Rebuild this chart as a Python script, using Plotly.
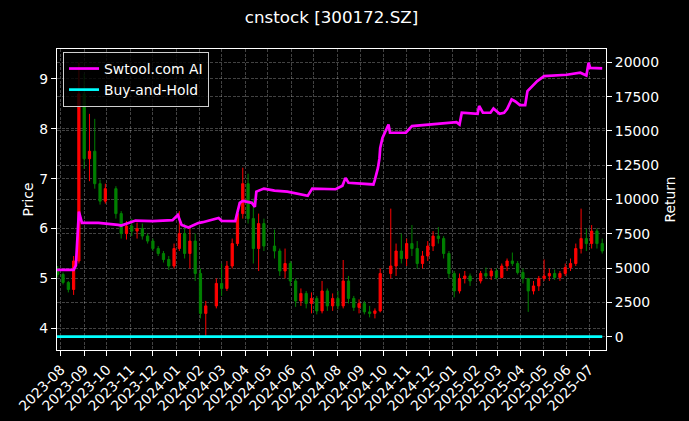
import plotly.graph_objects as go

# ---------------- data ----------------
c_dates = ["2023-07-28","2023-08-04","2023-08-11","2023-08-18","2023-08-25","2023-09-01","2023-09-08","2023-09-15","2023-09-22","2023-09-29",
           "2023-10-13","2023-10-20","2023-10-27","2023-11-03","2023-11-10","2023-11-17","2023-11-24","2023-12-01","2023-12-08","2023-12-15",
           "2023-12-22","2023-12-29","2024-01-05","2024-01-12","2024-01-19","2024-01-26","2024-02-02","2024-02-09","2024-02-23","2024-03-01",
           "2024-03-08","2024-03-15","2024-03-22","2024-03-29","2024-04-05","2024-04-12","2024-04-19","2024-04-26","2024-05-10","2024-05-17",
           "2024-05-24","2024-05-31","2024-06-07","2024-06-14","2024-06-21","2024-06-28","2024-07-05","2024-07-12","2024-07-19","2024-07-26",
           "2024-08-02","2024-08-09","2024-08-16","2024-08-23","2024-08-30","2024-09-06","2024-09-13","2024-09-20","2024-09-27","2024-10-11",
           "2024-10-18","2024-10-25","2024-11-01","2024-11-08","2024-11-15","2024-11-22","2024-11-29","2024-12-06","2024-12-13","2024-12-20",
           "2024-12-27","2025-01-03","2025-01-10","2025-01-17","2025-01-24","2025-02-07","2025-02-14","2025-02-21","2025-02-28","2025-03-07",
           "2025-03-14","2025-03-21","2025-03-28","2025-04-04","2025-04-11","2025-04-18","2025-04-25","2025-05-02","2025-05-09","2025-05-16",
           "2025-05-23","2025-05-30","2025-06-06","2025-06-13","2025-06-20","2025-06-27","2025-07-04","2025-07-11","2025-07-18"]
c_open = [5.20,5.08,4.92,4.78,5.35,8.70,7.40,7.55,6.90,6.55,
          6.80,6.30,5.90,6.05,5.95,6.00,5.85,5.75,5.60,5.50,
          5.38,5.25,5.60,5.90,5.50,5.75,5.10,4.30,4.45,4.90,
          4.80,5.25,5.70,6.30,6.90,6.20,5.60,6.10,5.65,5.55,
          5.15,5.30,4.95,4.55,4.70,4.50,4.60,4.35,4.75,4.45,
          4.60,4.45,4.95,4.60,4.42,4.50,4.33,4.30,4.35,5.10,
          5.25,5.55,5.40,5.70,5.60,5.30,5.45,5.65,5.85,5.80,
          5.50,5.10,4.75,5.00,5.05,4.95,5.10,5.05,5.15,5.02,
          5.25,5.35,5.30,5.12,5.00,4.75,4.85,5.00,5.05,5.10,
          5.02,5.10,5.22,5.30,5.60,5.80,5.70,5.95,5.70]
c_high = [5.25,5.12,4.95,5.45,9.33,9.10,8.30,8.20,6.98,6.90,
          6.85,6.35,6.15,6.20,6.12,6.10,5.90,5.80,5.65,5.55,
          5.45,5.70,6.35,6.10,6.00,5.90,5.20,4.55,5.00,5.30,
          5.35,5.80,6.40,7.22,7.10,6.60,6.30,6.20,5.98,5.60,
          5.60,5.35,5.00,4.80,4.75,4.72,4.65,4.95,4.80,4.70,
          4.75,5.37,5.05,4.65,4.58,4.55,4.45,4.40,5.20,6.40,
          5.70,5.90,5.80,6.07,5.75,5.55,5.75,5.95,6.03,5.85,
          5.55,5.15,5.10,5.15,5.10,5.15,5.22,5.20,5.20,5.30,
          5.40,5.52,5.35,5.20,5.00,4.95,5.05,5.38,5.20,5.18,
          5.15,5.30,5.40,5.70,6.40,6.00,6.07,6.00,5.80]
c_low = [5.02,4.88,4.72,4.67,5.30,7.20,6.95,6.80,6.48,6.50,
         6.20,5.80,5.78,5.85,5.80,5.78,5.70,5.55,5.45,5.32,
         5.17,5.20,5.55,5.40,5.20,4.95,4.20,3.84,4.40,4.65,
         4.75,5.20,5.65,6.20,6.10,5.30,5.15,5.55,5.40,5.05,
         5.00,4.85,4.43,4.45,4.40,4.30,4.28,4.30,4.35,4.35,
         4.38,4.40,4.50,4.35,4.30,4.28,4.22,4.20,4.32,5.00,
         5.05,5.30,5.25,5.45,5.20,5.20,5.35,5.55,5.70,5.40,
         5.00,4.62,4.70,4.90,4.85,4.90,5.00,4.97,4.98,5.00,
         5.15,5.25,5.08,4.90,4.33,4.68,4.75,4.95,4.95,4.97,
         4.95,5.05,5.15,5.25,5.50,5.55,5.60,5.60,5.50]
c_close = [5.08,4.92,4.78,5.35,8.70,7.40,7.55,6.90,6.55,6.80,
           6.30,5.90,6.05,5.95,6.00,5.85,5.75,5.60,5.50,5.38,
           5.25,5.60,5.90,5.50,5.75,5.10,4.30,4.45,4.90,4.80,
           5.25,5.70,6.30,6.90,6.20,5.60,6.10,5.65,5.55,5.15,
           5.30,4.95,4.55,4.70,4.50,4.60,4.35,4.75,4.45,4.60,
           4.45,4.95,4.60,4.42,4.50,4.33,4.30,4.35,5.10,5.25,
           5.55,5.40,5.70,5.60,5.30,5.45,5.65,5.85,5.80,5.50,
           5.10,4.75,5.00,5.05,4.95,5.10,5.05,5.15,5.02,5.25,
           5.35,5.30,5.12,5.00,4.75,4.85,5.00,5.05,5.10,5.02,
           5.10,5.22,5.30,5.60,5.80,5.70,5.95,5.70,5.55]

ai_dates = ["2023-07-27","2023-08-18","2023-08-21","2023-08-23","2023-08-25","2023-08-29","2023-09-20","2023-10-16","2023-10-20","2023-11-08",
            "2023-12-01","2023-12-27","2024-01-03","2024-01-08","2024-01-17","2024-01-30","2024-02-05","2024-02-26","2024-03-01","2024-03-19",
            "2024-03-25","2024-03-29","2024-04-10","2024-04-14","2024-04-16","2024-04-26","2024-05-10","2024-05-27","2024-06-12","2024-06-23",
            "2024-06-29","2024-07-30","2024-08-08","2024-08-12","2024-08-16","2024-09-18","2024-09-20","2024-09-24","2024-09-26","2024-09-27",
            "2024-09-30","2024-10-08","2024-10-10","2024-10-31","2024-11-08","2024-12-15","2025-01-06","2025-01-10","2025-01-13","2025-02-03",
            "2025-02-05","2025-02-10","2025-02-20","2025-02-24","2025-03-04","2025-03-10","2025-03-14","2025-03-20","2025-03-25","2025-03-31",
            "2025-04-07","2025-04-10","2025-04-16","2025-04-23","2025-05-02","2025-06-01","2025-06-19","2025-06-24","2025-06-27","2025-06-30",
            "2025-07-02","2025-07-18"]
ai_values = [4870,4870,5200,7600,9120,8300,8300,8150,8100,8470,
             8420,8500,8880,8150,7960,8280,8350,8660,8450,8420,
             9760,9900,9760,9470,10580,10800,10650,10580,10400,10270,
             10800,10750,11000,11580,11220,11100,11460,12310,13000,13770,
             14500,15470,14870,14870,15360,15560,15640,15470,16330,16250,
             16820,16330,16330,16640,16250,16330,16600,17300,17150,16890,
             16890,17910,18280,18640,19000,19100,19250,19150,19050,19980,
             19600,19560]

bh_dates = ["2023-07-27","2024-07-01","2025-07-18"]
bh_values = [0, 0, 0]

month_labels = ["2023-08","2023-09","2023-10","2023-11","2023-12","2024-01","2024-02","2024-03","2024-04","2024-05",
                "2024-06","2024-07","2024-08","2024-09","2024-10","2024-11","2024-12","2025-01","2025-02","2025-03",
                "2025-04","2025-05","2025-06","2025-07"]
price_ticks = [4, 5, 6, 7, 8, 9]
return_ticks = [0, 2500, 5000, 7500, 10000, 12500, 15000, 17500, 20000]

# ---------------- figure ----------------
month_vals = [m + "-01" for m in month_labels]

fig = go.Figure()
fig.add_trace(go.Candlestick(
    x=c_dates, open=c_open, high=c_high, low=c_low, close=c_close,
    increasing=dict(line=dict(color="#ff0000", width=1), fillcolor="#ff0000"),
    decreasing=dict(line=dict(color="#008000", width=1), fillcolor="#008000"),
    whiskerwidth=0, showlegend=False, yaxis="y", hoverinfo="skip"))
fig.add_trace(go.Scatter(x=ai_dates, y=ai_values, mode="lines", name="Swtool.com AI",
                         line=dict(color="#ff00ff", width=2.7), yaxis="y2"))
fig.add_trace(go.Scatter(x=bh_dates, y=bh_values, mode="lines", name="Buy-and-Hold",
                         line=dict(color="#00ffff", width=2.7), yaxis="y2"))

grid = dict(showgrid=True, gridcolor="rgba(255,255,255,0.26)", gridwidth=0.7, griddash="3px,1.5px")
axis_common = dict(ticks="outside", ticklen=5, tickwidth=1.1, tickcolor="white",
                   showline=True, linecolor="white", linewidth=1.1, zeroline=False,
                   tickfont=dict(size=13.9, color="white"), **grid)

fig.update_layout(
    width=689, height=421,
    paper_bgcolor="black", plot_bgcolor="black",
    margin=dict(l=57, r=83, t=49, b=71, autoexpand=False),
    font=dict(family="DejaVu Sans", color="white", size=13.9),
    title=dict(text="cnstock [300172.SZ]", x=0.5, xref="paper", xanchor="center",
               y=1 - 17 / 421, yref="container", yanchor="middle",
               font=dict(size=16.7, color="white", family="DejaVu Sans")),
    xaxis=dict(type="date", range=["2023-07-27", "2025-07-23"], tickvals=month_vals, ticktext=month_labels,
               tickangle=-45, mirror=True, rangeslider=dict(visible=False), **axis_common),
    yaxis=dict(range=[3.566, 9.6], tickvals=price_ticks, mirror=True,
               title=dict(text="Price", standoff=2, font=dict(size=13.9, color="white")), **axis_common),
    yaxis2=dict(overlaying="y", side="right", range=[-971, 20978], tickvals=return_ticks, tickformat="d",
                title=dict(text="Return", standoff=7, font=dict(size=13.9, color="white")), **axis_common),
    legend=dict(x=0.011, y=0.99, xanchor="left", yanchor="top", bgcolor="rgba(0,0,0,0.8)",
                bordercolor="#d0d0d0", borderwidth=1, font=dict(size=13.9, color="white")),
    boxgap=0.4, hovermode=False,
)

fig.write_html("out.html", config={"displayModeBar": False},
               post_script="document.body.style.margin='0px';")
